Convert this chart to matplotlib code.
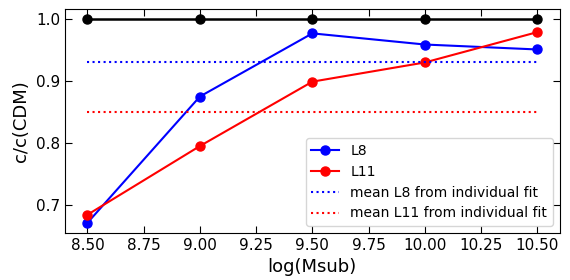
import matplotlib
matplotlib.use("Agg")
import matplotlib.pyplot as plt

log_msub = [8.5, 9.0, 9.5, 10.0, 10.5]
cdm = [1.0, 1.0, 1.0, 1.0, 1.0]
l8 = [0.671, 0.875, 0.977, 0.959, 0.951]
l11 = [0.684, 0.795, 0.899, 0.930, 0.979]
mean_l8 = 0.93
mean_l11 = 0.85

fig, ax = plt.subplots(figsize=(5.7, 2.8), dpi=100)
ax.plot(log_msub, cdm, "o-", color="black", linewidth=1.8, markersize=6.5)
ax.plot(log_msub, l8, "o-", color="blue", linewidth=1.5, markersize=6.5, label="L8")
ax.plot(log_msub, l11, "o-", color="red", linewidth=1.5, markersize=6.5, label="L11")
ax.plot([log_msub[0], log_msub[-1]], [mean_l8] * 2, ":", color="blue", linewidth=1.5,
        label="mean L8 from individual fit")
ax.plot([log_msub[0], log_msub[-1]], [mean_l11] * 2, ":", color="red", linewidth=1.5,
        label="mean L11 from individual fit")

ax.set_xticks([8.5, 8.75, 9.0, 9.25, 9.5, 9.75, 10.0, 10.25, 10.5])
ax.set_yticks([0.7, 0.8, 0.9, 1.0])
ax.tick_params(direction="in", top=True, right=True, labelsize=11, length=5)
ax.set_xlabel("log(Msub)", fontsize=13)
ax.set_ylabel("c/c(CDM)", fontsize=13)
ax.legend(loc="lower right", fontsize=10)
fig.subplots_adjust(left=0.114, right=0.982, top=0.968, bottom=0.168)
fig.savefig("out.png", dpi=100)
